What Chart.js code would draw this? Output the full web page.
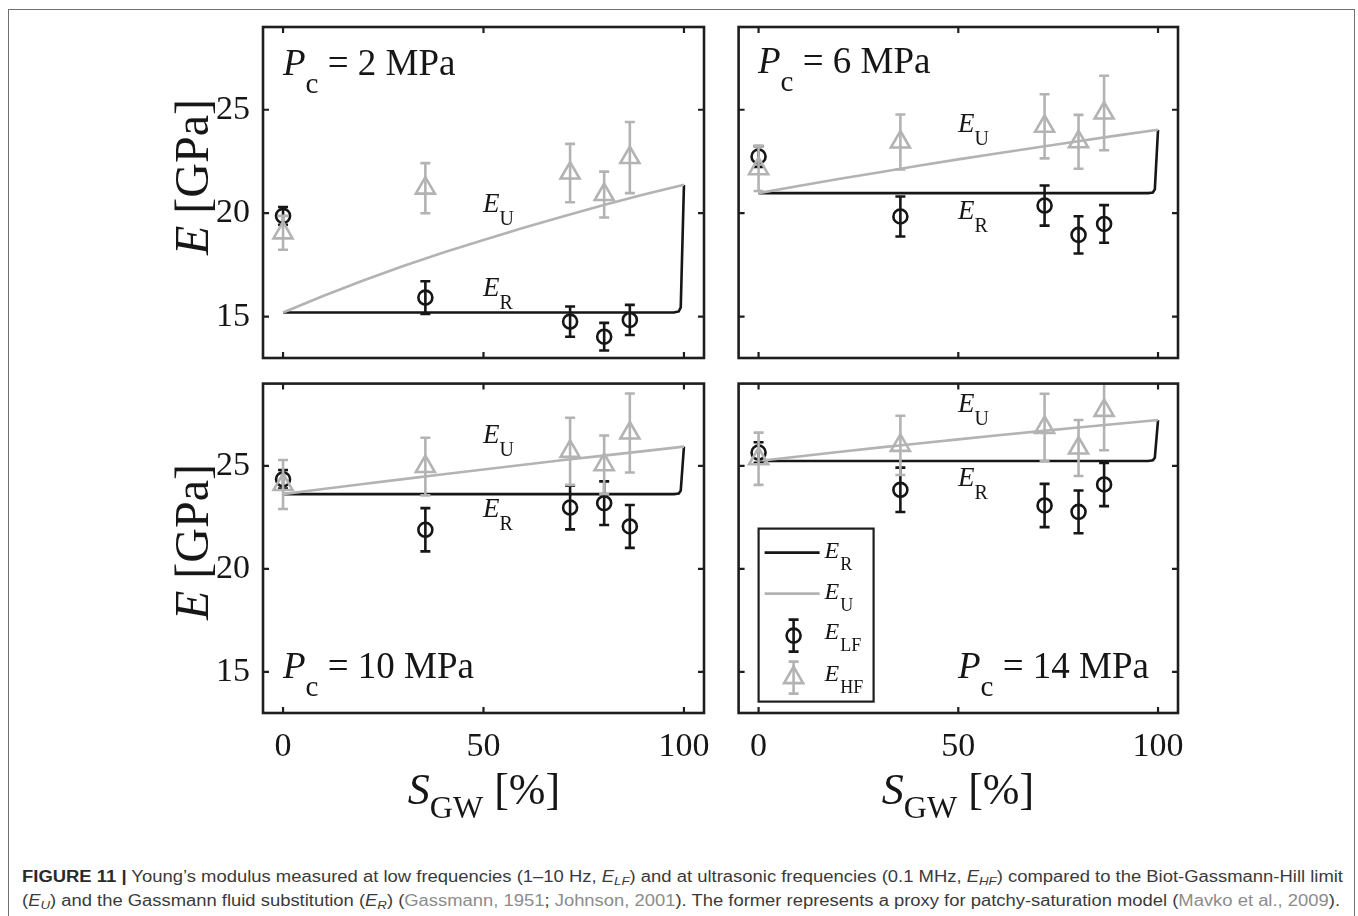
<!DOCTYPE html>
<html><head><meta charset="utf-8">
<script src="https://cdn.jsdelivr.net/npm/chart.js@4.4.1/dist/chart.umd.min.js"></script>
<style>
html,body{margin:0;padding:0;background:#fff;}
body{width:1358px;height:916px;position:relative;overflow:hidden;}
.frame{position:absolute;left:8px;top:9px;width:1347px;height:960px;border:1.5px solid #707070;box-sizing:border-box;}
canvas{position:absolute;}
.t{position:absolute;font-family:"Liberation Serif","Times New Roman",serif;color:#161616;white-space:nowrap;line-height:1;}
.t i{font-style:italic;}
.sb{position:relative;}
.cap{position:absolute;left:22px;font-family:"Liberation Sans",Arial,sans-serif;color:#3a3a3a;white-space:nowrap;line-height:1;transform-origin:0 0;}
.cap b{color:#2a2a2a;}
.cap .cite{color:#8c8c8c;}
.cap sub{font-size:0.72em;vertical-align:-0.3em;line-height:0;}
</style></head><body>
<div class="frame"></div>
<script>
// ---------------- data ----------------
const saturation = [0, 35.5, 71.6, 80.1, 86.5];
const xTickValues = [0, 50, 100];
const xTickLabels = ['0', '50', '100'];
const yTickValues = [15, 20, 25];
const yTickLabels = ['15', '20', '25'];
const pressureLabels = ['2', '6', '10', '14'];

const lf2 = [19.87, 15.92, 14.76, 14.03, 14.84];
const lf2Err = [0.43, 0.79, 0.73, 0.67, 0.73];
const hf2 = [19.05, 21.21, 21.94, 20.90, 22.69];
const hf2Err = [0.82, 1.21, 1.41, 1.11, 1.72];

const lf6 = [22.74, 19.84, 20.37, 18.95, 19.48];
const lf6Err = [0.50, 0.97, 0.97, 0.90, 0.91];
const hf6 = [22.15, 23.44, 24.20, 23.45, 24.84];
const hf6Err = [1.08, 1.33, 1.55, 1.30, 1.80];

const lf10 = [24.35, 21.90, 22.98, 23.19, 22.06];
const lf10Err = [0.45, 1.05, 1.06, 1.06, 1.04];
const hf10 = [24.10, 24.97, 25.71, 25.06, 26.60];
const hf10Err = [1.19, 1.40, 1.63, 1.42, 1.92];

const lf14 = [25.65, 23.84, 23.08, 22.77, 24.10];
const lf14Err = [0.50, 1.08, 1.05, 1.04, 1.05];
const hf14 = [25.35, 26.00, 26.87, 25.87, 27.70];
const hf14Err = [1.27, 1.44, 1.64, 1.36, 1.94];

// Biot-Gassmann-Hill limit E_U
const modelSat = [0, 10, 20, 30, 40, 50, 60, 70, 80, 90, 100];
const eu2 = [15.20, 16.00, 16.75, 17.45, 18.10, 18.70, 19.30, 19.85, 20.40, 20.90, 21.37];
const eu6 = [20.97, 21.31, 21.65, 21.97, 22.29, 22.60, 22.90, 23.19, 23.48, 23.76, 24.03];
const eu10 = [23.63, 23.88, 24.12, 24.36, 24.60, 24.83, 25.06, 25.29, 25.50, 25.72, 25.94];
const eu14 = [25.24, 25.46, 25.68, 25.89, 26.09, 26.29, 26.49, 26.68, 26.87, 27.05, 27.23];

// Gassmann fluid substitution E_R
const erSat = [0, 97.5, 98.7, 99.2, 100];
const er2 = [15.20, 15.20, 15.25, 15.45, 21.37];
const er6 = [20.97, 20.97, 21.00, 21.15, 24.03];
const er10 = [23.63, 23.63, 23.66, 23.80, 25.94];
const er14 = [25.24, 25.24, 25.27, 25.40, 27.23];

// ---------------- styles ----------------
const BLACK = '#161616';
const GRAY = '#b3b3b3';
const SERIF = '"Liberation Serif","Times New Roman",serif';

const toXY = (xs, ys) => xs.map((x, i) => ({x, y: ys[i]}));

const framePlugin = {
  id: 'frame',
  beforeDatasetDraw(chart, args) {
    const ds = chart.data.datasets[args.index];
    if (!ds.errors) return;
    const {ctx, chartArea: a} = chart;
    const x = chart.scales.x, y = chart.scales.y;
    ctx.save();
    ctx.beginPath(); ctx.rect(a.left, a.top, a.right - a.left, a.bottom - a.top); ctx.clip();
    ctx.strokeStyle = ds.pointBorderColor; ctx.lineWidth = 2.6; ctx.lineCap = 'butt';
    ds.data.forEach((p, i) => {
      const px = x.getPixelForValue(p.x);
      const y1 = y.getPixelForValue(p.y - ds.errors[i]);
      const y2 = y.getPixelForValue(p.y + ds.errors[i]);
      ctx.beginPath();
      ctx.moveTo(px, y1); ctx.lineTo(px, y2);
      ctx.moveTo(px - 5, y1); ctx.lineTo(px + 5, y1);
      ctx.moveTo(px - 5, y2); ctx.lineTo(px + 5, y2);
      ctx.stroke();
    });
    ctx.restore();
  },
  afterDatasetsDraw(chart) {
    const {ctx, chartArea: a} = chart;
    const x = chart.scales.x, y = chart.scales.y;
    ctx.save();
    ctx.strokeStyle = '#1e1e1e'; ctx.lineWidth = 2.6;
    ctx.strokeRect(a.left, a.top, a.right - a.left, a.bottom - a.top);
    ctx.lineWidth = 2.2;
    ctx.beginPath();
    x.ticks.forEach(t => {
      const px = x.getPixelForValue(t.value);
      ctx.moveTo(px, a.bottom); ctx.lineTo(px, a.bottom - 6);
      ctx.moveTo(px, a.top); ctx.lineTo(px, a.top + 6);
    });
    y.ticks.forEach(t => {
      const py = y.getPixelForValue(t.value);
      ctx.moveTo(a.left, py); ctx.lineTo(a.left + 6, py);
      ctx.moveTo(a.right, py); ctx.lineTo(a.right - 6, py);
    });
    ctx.stroke();
    ctx.restore();
  }
};

const legendItems = [
  {main: 'E', sub: 'R', kind: 'line', color: BLACK},
  {main: 'E', sub: 'U', kind: 'line', color: GRAY},
  {main: 'E', sub: 'LF', kind: 'circle', color: BLACK},
  {main: 'E', sub: 'HF', kind: 'triangle', color: GRAY}
];

const legendPlugin = {
  id: 'figLegend',
  afterDraw(chart, args, o) {
    if (!o.show) return;
    const ctx = chart.ctx, a = chart.chartArea;
    const bx = a.left + 20, by = a.top + 145, bw = 115, bh = 173;
    ctx.save();
    ctx.fillStyle = '#fff';
    ctx.fillRect(bx, by, bw, bh);
    ctx.strokeStyle = '#1e1e1e'; ctx.lineWidth = 2.2;
    ctx.strokeRect(bx, by, bw, bh);
    const rowY = [24, 65, 107, 149];
    legendItems.forEach((it, i) => {
      const cy = by + rowY[i];
      ctx.strokeStyle = it.color; ctx.lineWidth = 2.6;
      if (it.kind === 'line') {
        ctx.beginPath(); ctx.moveTo(bx + 6, cy); ctx.lineTo(bx + 61, cy); ctx.stroke();
      } else {
        const mx = bx + 35;
        ctx.beginPath();
        ctx.moveTo(mx, cy - 16); ctx.lineTo(mx, cy + 16);
        ctx.moveTo(mx - 5, cy - 16); ctx.lineTo(mx + 5, cy - 16);
        ctx.moveTo(mx - 5, cy + 16); ctx.lineTo(mx + 5, cy + 16);
        ctx.stroke();
        ctx.beginPath();
        if (it.kind === 'circle') {
          ctx.arc(mx, cy, 7, 0, Math.PI * 2);
        } else {
          const r = 11;
          ctx.moveTo(mx, cy - r);
          ctx.lineTo(mx + r * Math.sin(2 * Math.PI / 3), cy + r / 2);
          ctx.lineTo(mx - r * Math.sin(2 * Math.PI / 3), cy + r / 2);
          ctx.closePath();
        }
        ctx.stroke();
      }
      const tb = cy + (it.kind === 'line' ? 5 : 3);
      ctx.fillStyle = BLACK;
      ctx.textBaseline = 'alphabetic'; ctx.textAlign = 'left';
      ctx.font = 'italic 24px ' + SERIF;
      ctx.fillText(it.main, bx + 66, tb);
      const w = ctx.measureText(it.main).width;
      ctx.font = '18px ' + SERIF;
      ctx.fillText(it.sub, bx + 66 + w + 1, tb + 12);
    });
    ctx.restore();
  }
};

const panels = [
  {canvas: [150, 0, 585, 372], area: [263, 27, 704, 358], yLabels: true, xLabels: false,
   lf: lf2, lfErr: lf2Err, hf: hf2, hfErr: hf2Err, eu: eu2, er: er2, legend: false},
  {canvas: [725, 0, 475, 372], area: [737, 27, 1178, 358], yLabels: false, xLabels: false,
   lf: lf6, lfErr: lf6Err, hf: hf6, hfErr: hf6Err, eu: eu6, er: er6, legend: false},
  {canvas: [150, 370, 585, 410], area: [263, 383, 704, 713], yLabels: true, xLabels: true,
   lf: lf10, lfErr: lf10Err, hf: hf10, hfErr: hf10Err, eu: eu10, er: er10, legend: false},
  {canvas: [725, 370, 475, 410], area: [737, 383, 1178, 713], yLabels: false, xLabels: true,
   lf: lf14, lfErr: lf14Err, hf: hf14, hfErr: hf14Err, eu: eu14, er: er14, legend: true}
];

panels.forEach(p => {
  const [cl, ct, cw, ch] = p.canvas;
  const [al, at, ar, ab] = p.area;
  const cv = document.createElement('canvas');
  cv.width = cw; cv.height = ch;
  cv.style.left = cl + 'px'; cv.style.top = ct + 'px';
  cv.style.width = cw + 'px'; cv.style.height = ch + 'px';
  document.body.appendChild(cv);
  const yw = p.yLabels ? 60 : 8;
  const xh = p.xLabels ? 50 : 10;
  new Chart(cv, {
    type: 'scatter',
    data: {datasets: [
      {label: 'E_R', data: toXY(erSat, p.er), showLine: true, borderColor: BLACK, borderWidth: 2.6,
       pointRadius: 0, order: 3, fill: false, tension: 0},
      {label: 'E_U', data: toXY(modelSat, p.eu), showLine: true, borderColor: GRAY, borderWidth: 2.6,
       pointRadius: 0, order: 2, fill: false, tension: 0},
      {label: 'E_LF', data: toXY(saturation, p.lf), errors: p.lfErr, showLine: false,
       pointStyle: 'circle', pointRadius: 7, pointBorderWidth: 2.6, pointBorderColor: BLACK,
       pointBackgroundColor: 'rgba(0,0,0,0)', borderColor: BLACK, order: 1},
      {label: 'E_HF', data: toXY(saturation, p.hf), errors: p.hfErr, showLine: false,
       pointStyle: 'triangle', pointRadius: 11, pointBorderWidth: 2.6, pointBorderColor: GRAY,
       pointBackgroundColor: 'rgba(0,0,0,0)', borderColor: GRAY, order: 0}
    ]},
    options: {
      responsive: false, animation: false, events: [],
      layout: {padding: {left: al - cl - yw, top: at - ct, right: cl + cw - ar, bottom: ct + ch - ab - xh}},
      plugins: {legend: {display: false}, tooltip: {enabled: false}, figLegend: {show: p.legend}},
      scales: {
        x: {type: 'linear', min: -5, max: 105,
            afterBuildTicks: s => { s.ticks = xTickValues.map(v => ({value: v})); },
            afterFit: s => { s.height = xh; s.paddingLeft = 0; s.paddingRight = 0; s.paddingTop = 0; s.paddingBottom = 0; },
            grid: {display: false, drawTicks: false}, border: {display: false},
            ticks: {display: p.xLabels, autoSkip: false, maxRotation: 0, minRotation: 0, padding: 14,
                    color: BLACK, font: {family: SERIF, size: 34},
                    callback: v => xTickLabels[xTickValues.indexOf(v)]}},
        y: {type: 'linear', min: 13, max: 29,
            afterBuildTicks: s => { s.ticks = yTickValues.map(v => ({value: v})); },
            afterFit: s => { s.width = yw; s.paddingLeft = 0; s.paddingRight = 0; s.paddingTop = 0; s.paddingBottom = 0; },
            grid: {display: false, drawTicks: false}, border: {display: false},
            ticks: {display: p.yLabels, autoSkip: false, padding: 13,
                    color: BLACK, font: {family: SERIF, size: 34},
                    callback: v => yTickLabels[yTickValues.indexOf(v)]}}
      }
    },
    plugins: [framePlugin, legendPlugin]
  });
});

// ---------------- text ----------------
function addText(html, x, baseline, size, center) {
  const d = document.createElement('div');
  d.className = 't';
  d.style.fontSize = size + 'px';
  d.style.left = x + 'px';
  d.style.top = (baseline - 0.8375 * size) + 'px';
  if (center) d.style.transform = 'translateX(-50%)';
  d.innerHTML = html;
  document.body.appendChild(d);
  return d;
}
const sub = (t, size, drop) => `<span class="sb" style="font-size:${size}px;top:${drop}px">${t}</span>`;

// pressure labels
const pcPos = [[283, 75], [758, 73], [283, 678], [958, 678]];
pressureLabels.forEach((v, i) => {
  addText(`<i>P</i>${sub('c', 29, 18)} = ${v} MPa`, pcPos[i][0], pcPos[i][1], 37);
});
// curve annotations
const annU = [[483, 213], [958, 133], [483, 444], [958, 413]];
const annR = [[483, 297], [958, 220], [483, 518], [958, 487]];
annU.forEach(p => addText(`<i>E</i>${sub('U', 20, 13)}`, p[0], p[1], 27));
annR.forEach(p => addText(`<i>E</i>${sub('R', 20, 13)}`, p[0], p[1], 27));

// y titles
[[192, 177], [192, 542]].forEach(c => {
  const d = document.createElement('div');
  d.className = 't';
  d.style.fontSize = '48px';
  d.style.left = c[0] + 'px'; d.style.top = c[1] + 'px';
  d.style.transform = 'translate(-50%,-50%) rotate(-90deg)';
  d.innerHTML = '<i>E</i> [GPa]';
  document.body.appendChild(d);
});
// x titles
[484, 958].forEach(cx => addText(`<i>S</i>${sub('GW', 32, 14)} [%]`, cx, 805, 44, true));

// caption
const capLines = [
  {html: '<b>FIGURE 11 |</b> Young’s modulus measured at low frequencies (1–10 Hz, <i>E<sub>LF</sub></i>) and at ultrasonic frequencies (0.1 MHz, <i>E<sub>HF</sub></i>) compared to the Biot-Gassmann-Hill limit', base: 883, w: 1321},
  {html: '(<i>E<sub>U</sub></i>) and the Gassmann fluid substitution (<i>E<sub>R</sub></i>) (<span class="cite">Gassmann, 1951</span>; <span class="cite">Johnson, 2001</span>). The former represents a proxy for patchy-saturation model (<span class="cite">Mavko et al., 2009</span>).', base: 907, w: 1318}
];
capLines.forEach(l => {
  const d = document.createElement('div');
  d.className = 'cap';
  d.style.fontSize = '16px';
  d.style.top = (l.base - 0.85 * 16) + 'px';
  d.innerHTML = l.html;
  document.body.appendChild(d);
  const w = d.getBoundingClientRect().width;
  d.style.transform = `scaleX(${l.w / w})`;
});
</script>
</body></html>
